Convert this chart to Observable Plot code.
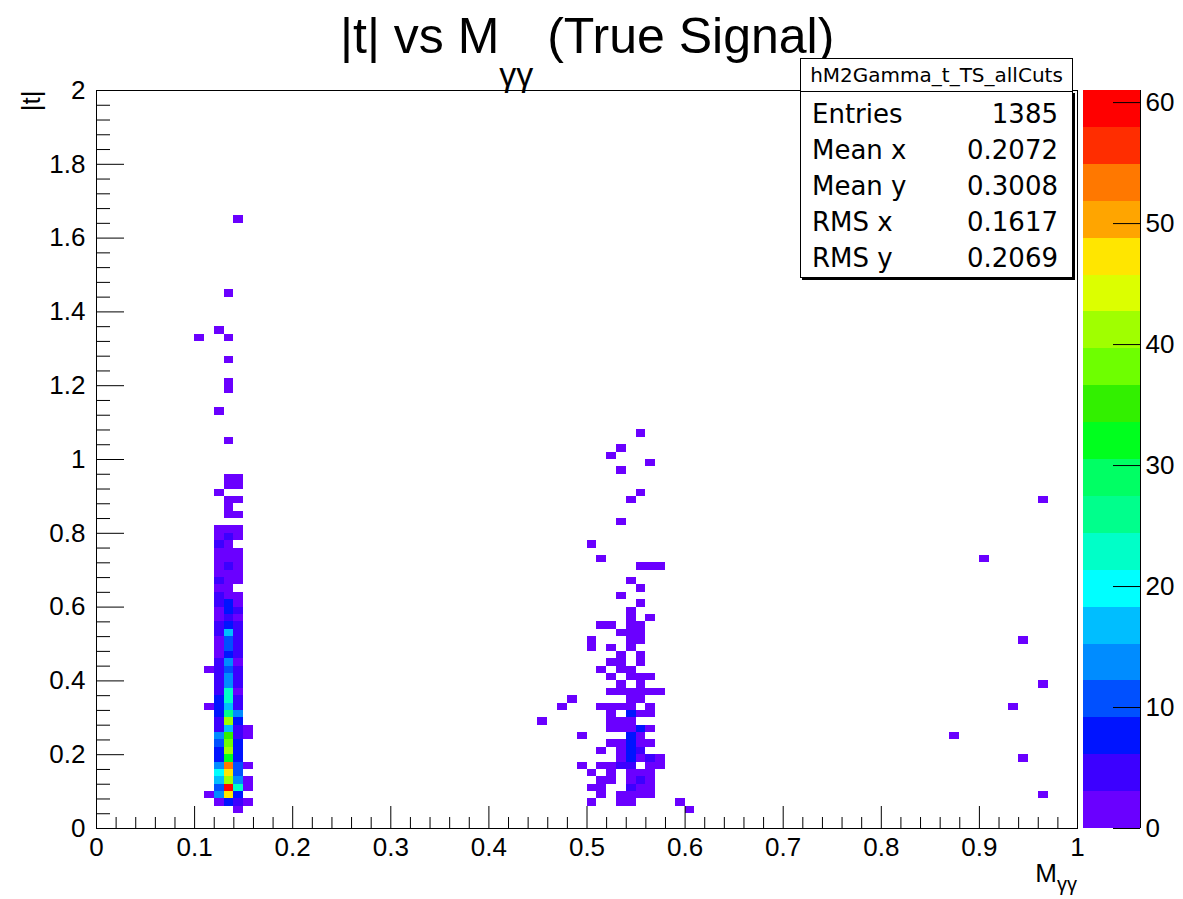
<!DOCTYPE html>
<html><head><meta charset="utf-8">
<script src="https://cdn.jsdelivr.net/npm/d3@7"></script>
<script src="https://cdn.jsdelivr.net/npm/@observablehq/plot@0.6"></script>
<style>
html,body{margin:0;padding:0;background:#fff;}
#wrap{position:relative;width:1183px;height:899px;overflow:hidden;font-family:"Liberation Sans",Arial,sans-serif;color:#000;}
#wrap svg{position:absolute;top:0;}
.title{position:absolute;left:340px;top:11px;font-size:50px;line-height:50px;white-space:nowrap;}
.title .sub{font-size:34px;vertical-align:-33px;}
.xlab{position:absolute;right:106px;top:860px;font-size:26px;line-height:26px;white-space:nowrap;}
.xlab .sub{font-size:20px;vertical-align:-9px;}
.stTitle{position:absolute;left:800px;top:58px;width:271px;height:32px;border:1px solid #000;background:#fff;font-family:"DejaVu Sans",sans-serif;font-size:20px;line-height:32px;text-align:center;white-space:nowrap;}
.stBox{position:absolute;left:800px;top:91px;width:271px;height:185px;border:1px solid #000;background:#fff;box-shadow:2px 2px 0 #000;font-family:"DejaVu Sans",sans-serif;font-size:26px;}
.stRow{position:absolute;left:11px;right:14px;height:36px;line-height:36px;white-space:nowrap;}
.stRow .v{position:absolute;right:0;top:0;}
</style></head>
<body><div id="wrap"></div>
<script>
// ---- histogram content: lower bin edges in M (x) and |t| (y), and bin counts ----
const binW = 0.01, binH = 0.02;
const col010T = [1.32];
const col010N = [1];
const col011T = [0.08, 0.32, 0.42];
const col011N = [2, 2, 1];
const col012T = [0.06,0.08,0.10,0.12,0.14,0.16,0.18,0.20,0.22,0.24,0.26,0.28,0.30,0.32,0.34,0.36,0.38,0.40,0.42,0.44,0.46,0.48,0.50,0.52,0.54,0.56,0.58,0.60,0.62,0.64,0.66,0.68,0.70,0.72,0.74,0.76,0.78,0.80,0.90,1.12,1.34];
const col012N = [2,14,11,17,20,14,9,8,11,14, 5,5,8,8,8,5,5,5,5,5, 2,2,2,5,5,2,2,5,5,2, 5,2,2,2,2,5,2,2, 1,1,1];
const col013T = [0.06,0.08,0.10,0.12,0.14,0.16,0.18,0.20,0.22,0.24,0.26,0.28,0.30,0.32,0.34,0.36,0.38,0.40,0.42,0.44,0.46,0.48,0.50,0.52,0.54,0.56,0.58,0.60,0.62,0.64,0.66,0.68,0.70,0.72,0.74,0.76,0.78,0.80,0.84,0.86,0.88,0.92,0.94,1.04,1.18,1.20,1.26,1.32,1.44];
const col013N = [8,48,61,42,47,53,32,40,37,34, 16,41,25,17,23,23,14,14,11,14, 8,11,11,17,8,5,8,8,2,1, 2,2,5,2,2,2,5,2, 2,1,1,1,1,1,1,1,1,1,1];
const col014T = [0.04,0.06,0.08,0.10,0.12,0.14,0.16,0.18,0.20,0.22,0.24,0.26,0.28,0.30,0.32,0.34,0.36,0.38,0.40,0.42,0.44,0.46,0.48,0.50,0.52,0.54,0.56,0.58,0.60,0.62,0.66,0.68,0.70,0.72,0.74,0.78,0.80,0.84,0.88,0.92,0.94,1.64];
const col014N = [2,5,8,23,14,11,11,8,8,8, 5,5,8,14,5,5,2,4,4,4, 2,4,4,4,4,5,2,6,2,2, 2,2,2,2,2, 2,2, 1,1,1,1,1];
const col015T = [0.06,0.10,0.12,0.16,0.24,0.26];
const col015N = [1,2,2,1,2,1];
const col045T = [0.28];  const col045N = [1];
const col047T = [0.32];  const col047N = [1];
const col048T = [0.34];  const col048N = [1];
const col049T = [0.16,0.24];  const col049N = [1,1];
const col050T = [0.06,0.10,0.14,0.48,0.50,0.76];
const col050N = [1,1,2,1,1,1];
const col051T = [0.08,0.10,0.12,0.16,0.20,0.32,0.42,0.54,0.72];
const col051N = [1,2,2,2,1,2,1,1,1];
const col052T = [0.12,0.14,0.16,0.22,0.26,0.28,0.30,0.32,0.36,0.40,0.44,0.48,0.54,1.00];
const col052N = [2,2,2,2,2,2,1,2,2,1,2,1,1,1];
const col053T = [0.06,0.08,0.16,0.18,0.20,0.22,0.26,0.28,0.32,0.36,0.38,0.42,0.44,0.46,0.52,0.62,0.82,0.96,1.02];
const col053N = [2,2,5,3,2,3,3,2,3,2,2,2,2,1,2,1,1,1,1];
const col054T = [0.06,0.08,0.10,0.12,0.14,0.16,0.18,0.20,0.22,0.24,0.26,0.28,0.30,0.32,0.34,0.36,0.40,0.42,0.48,0.50,0.52,0.54,0.56,0.58,0.66,0.88];
const col054N = [3,3,5,3,3,5,8,8,8,8,3,3,8,3,2,3,2,2,2,2,2,2,2,1,1,1];
const col055T = [0.08,0.10,0.12,0.14,0.18,0.20,0.22,0.24,0.26,0.30,0.34,0.36,0.38,0.40,0.44,0.46,0.50,0.52,0.54,0.60,0.64,0.70,0.90,1.06];
const col055N = [2,2,5,2,2,5,2,2,8,2,2,2,2,2,2,2,2,2,2,1,1,1,1,1];
const col056T = [0.08,0.10,0.12,0.14,0.16,0.18,0.22,0.26,0.30,0.32,0.36,0.40,0.56,0.70,0.98];
const col056N = [2,2,2,2,2,5,2,2,2,1,2,1,1,1,1];
const col057T = [0.16,0.18,0.36,0.70];  const col057N = [1,2,1,1];
const col059T = [0.06];  const col059N = [1];
const col060T = [0.04];  const col060N = [1];
const farM = [0.87,0.90,0.93,0.94,0.94,0.96,0.96,0.96];
const farT = [0.24,0.72,0.32,0.18,0.50,0.08,0.38,0.88];
const farN = [1,1,1,1,1,1,1,1];

// ---- axes / palette ----
const xTicks = [0,0.1,0.2,0.3,0.4,0.5,0.6,0.7,0.8,0.9,1];
const yTicks = [0,0.2,0.4,0.6,0.8,1,1.2,1.4,1.6,1.8,2];
const zTicks = [0,10,20,30,40,50,60];
const zMax = 61;
const palette = ["#6a00ff","#3c00ff","#0014ff","#0050ff","#008cff","#00beff","#00ffff","#00ffc8","#00ff8c","#00ff64",
                 "#00ff1e","#32f000","#6eff00","#a0ff00","#dcff00","#ffe600","#ffa500","#ff7800","#ff2d00","#ff0000"];
const statLabels = ["Entries","Mean x","Mean y","RMS x","RMS y"];
const statValues = ["1385","0.2072","0.3008","0.1617","0.2069"];
const histName = "hM2Gamma_t_TS_allCuts";

const columns = [
  [0.10,col010T,col010N],[0.11,col011T,col011N],[0.12,col012T,col012N],[0.13,col013T,col013N],
  [0.14,col014T,col014N],[0.15,col015T,col015N],[0.45,col045T,col045N],[0.47,col047T,col047N],
  [0.48,col048T,col048N],[0.49,col049T,col049N],[0.50,col050T,col050N],[0.51,col051T,col051N],
  [0.52,col052T,col052N],[0.53,col053T,col053N],[0.54,col054T,col054N],[0.55,col055T,col055N],
  [0.56,col056T,col056N],[0.57,col057T,col057N],[0.59,col059T,col059N],[0.60,col060T,col060N]
];
const cells = columns.flatMap(([m,T,N]) => T.map((t,k) => ({m, t, n: N[k]})))
  .concat(farM.map((m,k) => ({m, t: farT[k], n: farN[k]})));

const nBands = palette.length;
const zLevels = d3.range(1, nBands).map(k => k * zMax / nBands);
const bands = d3.range(nBands).map(k => ({lo: k*zMax/nBands, hi: (k+1)*zMax/nBands, mid: (k+0.5)*zMax/nBands}));
const colorOpts = {type: "threshold", domain: zLevels, range: palette};

const W = 1183, H = 899, L = 96, R = 1077, T = 90, B = 828;
const fw = R - L, fh = B - T;
const xMinor = d3.range(0, 51).map(k => k/50).filter((d,k) => k % 5 !== 0);
const yMinor = d3.range(0, 51).map(k => k/25).filter((d,k) => k % 5 !== 0);
const font = '"Liberation Sans", Arial, sans-serif';

const main = Plot.plot({
  width: W, height: H,
  marginLeft: L, marginRight: W - R, marginTop: T, marginBottom: H - B,
  style: {fontFamily: font, fontSize: "26px", background: "transparent", color: "black"},
  x: {domain: [0,1], ticks: xTicks, tickSize: 0, tickPadding: 9, tickFormat: d => String(d), label: null},
  y: {domain: [0,2], ticks: yTicks, tickSize: 0, tickPadding: 11, tickFormat: d => String(d), label: null},
  color: colorOpts,
  marks: [
    Plot.rect(cells, {x1: "m", x2: d => d.m + binW, y1: "t", y2: d => d.t + binH, fill: "n", shapeRendering: "crispEdges"}),
    Plot.frame({stroke: "black", strokeWidth: 1}),
    Plot.tickX(xTicks, {x: d => d, stroke: "black", insetTop: fh - 22}),
    Plot.tickX(xMinor, {x: d => d, stroke: "black", insetTop: fh - 11}),
    Plot.tickY(yTicks, {y: d => d, stroke: "black", insetRight: fw - 28}),
    Plot.tickY(yMinor, {y: d => d, stroke: "black", insetRight: fw - 14}),
    Plot.text(["|t|"], {frameAnchor: "top-left", text: d => d, rotate: -90, textAnchor: "end", dx: -75, fontSize: 26})
  ]
});
main.style.left = "0px";

const bar = Plot.plot({
  width: 100, height: H,
  marginLeft: 0, marginRight: 43, marginTop: T, marginBottom: H - B,
  style: {fontFamily: font, fontSize: "26px", background: "transparent", color: "black"},
  x: {domain: [0,1], axis: null},
  y: {domain: [0, zMax], ticks: zTicks, tickSize: 0, tickPadding: 5, axis: "right", label: null, tickFormat: d => String(d)},
  color: colorOpts,
  marks: [
    Plot.rect(bands, {y1: "lo", y2: "hi", fill: "mid", shapeRendering: "crispEdges"}),
    Plot.tickY(zTicks, {y: d => d, stroke: "black", insetLeft: 30}),
    Plot.ruleX([1], {stroke: "black"})
  ]
});
bar.style.left = "1083px";

const wrap = document.getElementById("wrap");
wrap.appendChild(main);
wrap.appendChild(bar);

const title = document.createElement("div");
title.className = "title";
title.innerHTML = '|t| vs M<span class="sub">γγ</span> (True Signal)';
wrap.appendChild(title);

const xlab = document.createElement("div");
xlab.className = "xlab";
xlab.innerHTML = 'M<span class="sub">γγ</span>';
wrap.appendChild(xlab);

const box = document.createElement("div");
box.className = "stBox";
statLabels.forEach((lab, k) => {
  const row = document.createElement("div");
  row.className = "stRow";
  row.style.top = (4 + 36*k) + "px";
  row.textContent = lab;
  const v = document.createElement("span");
  v.className = "v";
  v.textContent = statValues[k];
  row.appendChild(v);
  box.appendChild(row);
});
wrap.appendChild(box);
const st = document.createElement("div");
st.className = "stTitle";
st.textContent = histName;
wrap.appendChild(st);
</script>
</body></html>
